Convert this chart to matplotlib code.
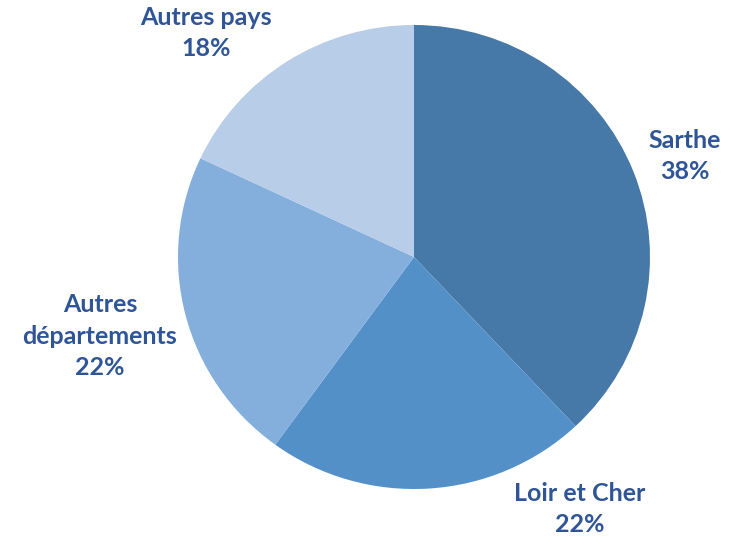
import matplotlib.pyplot as plt

# share of visitors by origin
labels = ["Sarthe", "Loir et Cher", "Autres\ndépartements", "Autres pays"]
shares = [38, 22, 22, 18]
colors = ["#4678A8", "#5390C7", "#84AEDC", "#B8CDE8"]

# label anchors (pie data units) for each slice
label_pos = [(1.148, 0.435), (0.703, -1.086), (-1.331, -0.341), (-0.881, 0.966)]

plt.rcParams['font.family'] = ['Lato', 'DejaVu Sans']

fig = plt.figure(figsize=(7.32, 5.41), dpi=100)
ax = fig.add_axes([178 / 732, (541 - 489) / 541, 472 / 732, 464 / 541])

ax.pie(shares, colors=colors, startangle=90, counterclock=False, radius=1,
       wedgeprops=dict(linewidth=0))
ax.set_aspect('auto')
ax.set_xlim(-1, 1)
ax.set_ylim(-1, 1)
ax.axis('off')

for lab, val, (x, y) in zip(labels, shares, label_pos):
    ax.text(x, y, f"{lab}\n{val}%", ha='center', va='center', fontsize=18,
            fontweight='bold', color='#2F5597', linespacing=1.45, clip_on=False)

plt.savefig('out.png', dpi=100)
